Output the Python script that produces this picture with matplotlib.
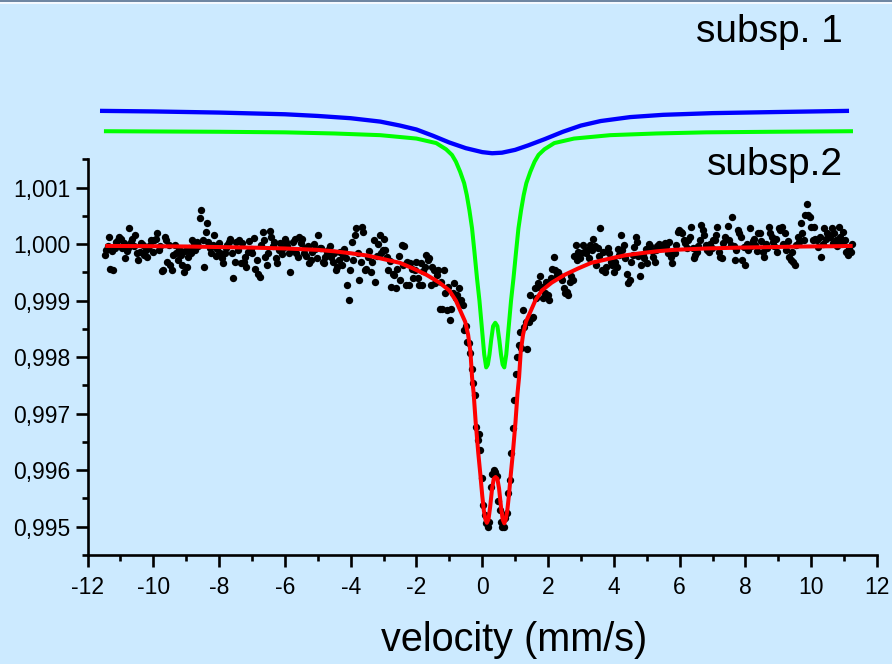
import numpy as np
import matplotlib
matplotlib.use("Agg")
import matplotlib.pyplot as plt
from matplotlib.patches import Rectangle

plt.rcParams['font.family'] = ['Liberation Sans', 'DejaVu Sans']

# ---------------- data (deviations from 1 in units of 1e-5) ----------------
vel_first, vel_last = -11.48, 11.24   # channel velocities (mm/s), equally spaced

data_dev = [
    # -11.48 .. -11.0
    -19, -10, -4, 13, -43, -12, -46, -7, 4, 8, 13,
    # -11 .. -10
    10, -7, 3, -25, -12, -7, 28, 4, 10, -4, 16, -16, -28, -13, 2, -1, -19, -10, -22, -6, -1, 8, -14,
    # -10 .. -9
    7, 10, 19, -10, -4, -47, -46, 13, 7, -31, -2, -37, -46, -19, -1, -16, -28, -8, -19, -37, -49, -12,
    # -9 .. -8
    -40, -22, -7, -16, 7, 2, -10, 4, -3, 46, 60, 7, -40, 22, 37, 4, -7, -16, -1, 16, -20, -8, 3,
    # -8 .. -7
    -16, -25, -34, -16, -7, -1, 4, 10, -16, -60, -31, 4, -10, 7, -34, 2, -31, -22, -40, -13, 5, -8,
    # -7 .. -6
    -16, 11, -43, -28, -52, -58, -1, 22, 7, -22, -37, -16, 23, 13, -4, 4, -25, -34, -10, 2, -18, -6, 9,
    # -6 .. -5
    4, -4, -16, -50, -10, 4, 10, -16, -22, 13, 2, 10, -16, -7, -20, -4, -34, -28, -13, 1, -9, -24,
    # -5 .. -4
    17, -7, -7, -31, -34, -22, -13, -10, -4, -22, -31, -16, -46, -40, -28, -13, -37, -20, -8, -25, -72, -99, -46,
    # -4 .. -3
    4, -28, 16, 28, -16, -63, -31, 31, 22, -46, -43, -22, -12, -49, -31, 7, -66, -20, 1, 16, -16, -10,
    # -3 .. -2
    10, -10, -22, -46, -30, -75, -52, -55, -78, -43, -20, -63, -2, -36, -4, -72, -31, -72, -34, -43, -60, -46, -31,
    # -2 .. -1
    -60, -73, -34, -72, -48, -40, -19, -28, -25, -72, -40, -46, -69, -55, -46, -114, -66, -114, -46, -87, -117, -75,
    # -1 .. 0
    -134, -114, -87, -69, -96, -90, -78, -106, -99, -108, -152, -145, -173, -175, -193, -220, -246, -267,
    -323, -347, -335, -365, -414,
    # 0 .. 1
    -462, -480, -494, -500, -492, -430, -406, -400, -403, -410, -455, -470, -492, -500, -500, -485, -476,
    -441, -417, -370, -326, -276, -229,
    # 1 .. 2
    -199, -178, -155, -184, -117, -146, -137, -186, -137, -90, -131, -128, -78, -96, -69, -75, -57, -75,
    -96, -87, -66, -90,
    # 2 .. 3
    -99, -60, -43, -22, -46, -55, -49, -55, -60, -63, -78, -87, -84, -90, -66, -57, -63, -20, -1, -28, -13, -25, -16,
    # 3 .. 4
    -1, -13, -16, -10, -25, -1, -10, 10, -4, -37, -7, -20, 28, -46, -13, -49, -40, -7, -16, -31, -37, -49,
    # 4 .. 5
    -31, -40, -8, -19, 16, -10, -2, -25, -52, -69, -63, -31, -19, -5, 13, 4, -20, -57, -37, -19, -25, -8, -34,
    # 5 .. 6
    1, -4, -12, -22, -31, -10, -3, 1, -7, -1, -7, 2, -4, -16, 4, -22, -34, -13, -16, -1, 22, 25,
    # 6 .. 7
    22, 19, 7, 2, -6, 7, 13, 31, -7, -25, -19, -13, -4, 8, 34, 25, 16, -1, -10, -13, 1, -6, 7,
    # 7 .. 8
    7, 16, 31, -13, -22, -25, 3, 13, 10, 32, 7, -2, 49, -4, -28, -10, 25, 19, 13, -28, -5, -37,
    # 8 .. 9
    1, -10, 28, -3, 5, 10, -1, -12, 19, 19, 6, -13, -22, 1, -6, 31, 20, 13, 4, -4, 9, -13, 28,
    # 9 .. 10
    25, 31, 1, 19, -10, 5, -22, -28, -13, -31, -37, -1, 13, 4, 37, 20, 8, 52, 72, 52, 49, 31,
    # 10 .. 11.24
    7, 31, 10, 7, -5, 13, -22, 1, 28, 10, 19, 16, 13, 28, 2, 19, 7, -4, 31, 13, 4, 22, 7, -13, -19, -7, -13, 1,
]

# fit (subsp. 1 + subsp. 2)
fit_vel = [-11.46, -10, -9, -8, -7, -6, -5, -4.5, -4, -3.5, -3.1, -2.5, -2.1, -1.7, -1.3, -1.0, -0.8,
           -0.65, -0.52, -0.43, -0.36, -0.31, -0.26, -0.20, -0.12, -0.06, 0.0, 0.05, 0.10, 0.14, 0.19,
           0.24, 0.30, 0.35, 0.405, 0.46, 0.51, 0.57, 0.62, 0.67, 0.71, 0.76, 0.81, 0.87, 0.93, 1.01,
           1.07, 1.12, 1.17, 1.24, 1.33, 1.46, 1.61, 1.81, 2.11, 2.51, 2.91, 3.31, 3.91, 4.31, 4.81,
           5.31, 5.81, 6.81, 7.81, 8.81, 9.81, 10.81, 11.26]
fit_dev = [-3, -3.5, -4, -5, -6, -7.5, -10, -12.5, -16, -20, -25, -33, -43, -54, -68, -82, -100,
           -120, -137, -160, -190, -235, -265, -315, -370, -406, -445, -472, -488, -493, -487,
           -465, -432, -415, -412, -415, -432, -465, -487, -494, -488, -472, -445, -406, -370, -315,
           -265, -235, -190, -160, -137, -120, -100, -82, -68, -54, -43, -33, -25, -20, -16,
           -12.5, -10, -7.5, -6, -5, -4, -3.5, -3]

# subsp. 1 (blue, offset)
sub1_vel = [-11.62, -10, -8, -6, -5, -4, -3.1, -2.5, -2.0, -1.5, -1.0, -0.5, 0.0, 0.3, 0.6, 1.0,
            1.4, 1.9, 2.45, 3.0, 3.6, 4.5, 5.5, 7.0, 9.0, 11.15]
sub1_dev = [236, 235, 233, 230, 227, 223, 217, 210, 203, 192, 180, 170, 163, 161, 162, 167,
            175, 186, 199, 210, 218, 225, 229, 232, 234, 236]

# subsp. 2 (green, offset)
sub2_vel = [-11.5, -8, -6, -4.5, -3.1, -2.0, -1.4, -1.1, -0.92, -0.80, -0.67, -0.55, -0.47, -0.39,
            -0.31, -0.235, -0.16, -0.085, -0.01, 0.06, 0.12, 0.17, 0.22, 0.27, 0.33, 0.395, 0.46,
            0.52, 0.57, 0.62, 0.67, 0.73, 0.80, 0.875, 0.95, 1.025, 1.10, 1.18, 1.26, 1.34, 1.46,
            1.59, 1.71, 1.89, 2.19, 2.79, 3.89, 5.3, 6.8, 8.8, 11.27]
sub2_dev = [200, 199, 198, 196, 193, 187, 179, 168, 158, 146, 128, 108, 87, 60,
            28, -15, -60, -100, -149, -195, -218, -213, -195, -170, -145, -139, -145,
            -170, -195, -213, -218, -195, -149, -100, -60, -15, 28, 60, 87, 108, 128,
            146, 158, 168, 179, 187, 193, 196, 198, 199, 200]

y_major = [0.995, 0.996, 0.997, 0.998, 0.999, 1.000, 1.001]
x_major = list(range(-12, 13, 2))

# ---------------- figure ----------------
W, H = 892, 664
fig = plt.figure(figsize=(W / 100, H / 100), dpi=100)
bg = '#cceaff'
fig.patch.set_facecolor(bg)

# top border strip
fig.patches.append(Rectangle((0, 1 - 2 / H), 1, 2 / H, transform=fig.transFigure,
                             facecolor='#6f87a3', edgecolor='none', zorder=0))
fig.patches.append(Rectangle((0, 1 - 4 / H), 1, 2 / H, transform=fig.transFigure,
                             facecolor='#f4f9ff', edgecolor='none', zorder=0))

ax = fig.add_axes([87.5 / W, 1 - 555 / H, (877 - 87.5) / W, 555 / H])
ax.set_facecolor('none')

scale = 1e-5
vel = np.linspace(vel_first, vel_last, len(data_dev))
ax.plot(vel, 1 + np.array(data_dev) * scale, 'o', color='black', ms=5.3, mew=0, zorder=2)
ax.plot(fit_vel, 1 + np.array(fit_dev) * scale, color='#ff0000', lw=2.9, zorder=3,
        solid_joinstyle='round', solid_capstyle='butt')
ax.plot(sub2_vel, 1 + np.array(sub2_dev) * scale, color='#00ff00', lw=2.9, zorder=3,
        solid_joinstyle='round', solid_capstyle='butt')
ax.plot(sub1_vel, 1 + np.array(sub1_dev) * scale, color='#0000ff', lw=3.1, zorder=3,
        solid_joinstyle='round', solid_capstyle='butt')

ax.set_xlim(-12, 12)
ax.set_ylim(0.9945, 1.001 + 187.7 / 56500)

for s in ('top', 'right'):
    ax.spines[s].set_visible(False)
for s in ('left', 'bottom'):
    ax.spines[s].set_linewidth(1.9)
ax.spines['left'].set_bounds(0.9945, 1.0015)

ax.set_yticks(y_major)
ax.set_yticklabels([f"{v:.3f}".replace('.', ',') for v in y_major])
ax.set_yticks([0.9945 + 0.001 * k for k in range(8)], minor=True)
ax.set_xticks(x_major)
ax.set_xticklabels([str(v) for v in x_major])
ax.set_xticks(list(range(-11, 12, 2)), minor=True)

ax.tick_params(axis='both', which='major', length=8.3, width=1.9, labelsize=16.5,
               direction='out', colors='black')
ax.tick_params(axis='both', which='minor', length=4.2, width=1.9, direction='out')
ax.tick_params(axis='y', which='major', pad=4)
ax.tick_params(axis='x', which='major', pad=7)

fig.text(514 / W, 1 - 651 / H, 'velocity (mm/s)', ha='center', va='baseline', fontsize=28.5)
fig.text(843 / W, 1 - 42.5 / H, 'subsp. 1', ha='right', va='baseline', fontsize=28)
fig.text(843 / W, 1 - 175 / H, 'subsp.2', ha='right', va='baseline', fontsize=28)

fig.savefig('out.png', dpi=100, facecolor=fig.get_facecolor())
